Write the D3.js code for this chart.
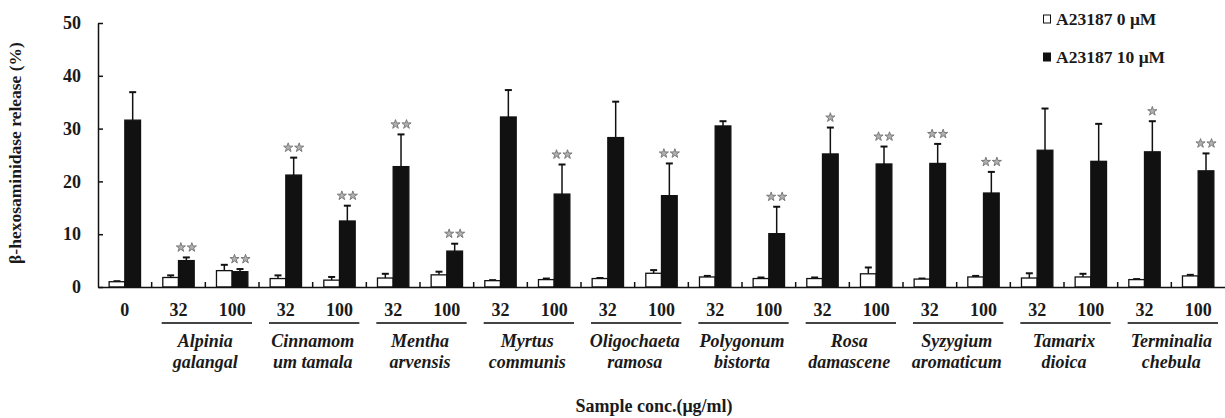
<!DOCTYPE html>
<html>
<head>
<meta charset="utf-8">
<script src="https://cdn.jsdelivr.net/npm/d3@7"></script>
<style>
  body { margin: 0; background: #fff; }
  svg text { font-family: "Liberation Serif", "Times New Roman", serif; font-weight: bold; fill: #1a1a1a; }
</style>
</head>
<body>
<svg id="chart" width="1225" height="418"></svg>
<script>
// concentration labels under each group
const concLabels = ["0", "32", "100", "32", "100", "32", "100", "32", "100", "32", "100",
  "32", "100", "32", "100", "32", "100", "32", "100", "32", "100"];
const species = [
  ["Alpinia", "galangal"], ["Cinnamom", "um tamala"], ["Mentha", "arvensis"],
  ["Myrtus", "communis"], ["Oligochaeta", "ramosa"], ["Polygonum", "bistorta"],
  ["Rosa", "damascene"], ["Syzygium", "aromaticum"], ["Tamarix", "dioica"],
  ["Terminalia", "chebula"]
];
// A23187 0 uM (white)
const meanA0 = [1.0, 1.8, 3.1, 1.6, 1.3, 1.7, 2.3, 1.2, 1.4, 1.6, 2.6, 1.9, 1.6, 1.6, 2.5, 1.5, 1.9, 1.7, 1.9, 1.4, 2.1];
const sdA0 = [0.1, 0.4, 1.1, 0.6, 0.6, 0.8, 0.6, 0.1, 0.2, 0.1, 0.6, 0.2, 0.2, 0.2, 1.2, 0.1, 0.2, 0.9, 0.6, 0.1, 0.2];
// A23187 10 uM (black)
const meanA10 = [31.6, 5.0, 2.9, 21.2, 12.5, 22.8, 6.8, 32.2, 17.6, 28.3, 17.3, 30.5, 10.1, 25.2, 23.3, 23.4, 17.8, 25.9, 23.8, 25.6, 22.0];
const sdA10 = [5.3, 0.6, 0.5, 3.3, 2.9, 6.1, 1.4, 5.1, 5.6, 6.8, 6.1, 0.9, 5.1, 5.0, 3.3, 3.7, 4.0, 7.9, 7.1, 5.8, 3.3];
const nStars = [0, 2, 2, 2, 2, 2, 2, 0, 2, 0, 2, 0, 2, 1, 2, 2, 2, 0, 0, 1, 2];
const yTicks = [0, 10, 20, 30, 40, 50];
const seriesNames = ["A23187 0 \u03bcM", "A23187 10 \u03bcM"];

const svg = d3.select("#chart");
const idx = d3.range(concLabels.length);

const x = d3.scaleBand().domain(idx).range([98, 1225]).padding(0);
const xs = d3.scaleBand().domain([0, 1]).range([0, x.bandwidth()]).paddingInner(0).paddingOuter(0.71);
const y = d3.scaleLinear().domain([0, 50]).range([287, 23]);

// y axis
const yAxis = svg.append("g")
  .attr("transform", "translate(98,0)")
  .call(d3.axisLeft(y).tickValues(yTicks).tickSizeInner(-5).tickSizeOuter(0).tickPadding(17));
yAxis.attr("font-family", null);
yAxis.select(".domain").attr("stroke", "#111").attr("stroke-width", 1.5);
yAxis.selectAll(".tick line").attr("stroke", "#111").attr("stroke-width", 1.5);
yAxis.selectAll("text").attr("font-size", 18);

svg.append("text")
  .attr("transform", "translate(21,153) rotate(-90)")
  .attr("text-anchor", "middle")
  .attr("font-size", 17.5)
  .text("\u03b2-hexosaminidase release (%)");

// bars
const groups = svg.append("g").selectAll("g")
  .data(idx)
  .join("g")
  .attr("transform", d => "translate(" + x(d) + ",0)");

const bars = [
  { mean: meanA0, sd: sdA0, fill: "#fff" },
  { mean: meanA10, sd: sdA10, fill: "#111" }
];

bars.forEach((s, k) => {
  const cx = xs(k) + xs.bandwidth() / 2;
  // error bar (upper only)
  groups.append("line")
    .attr("x1", cx).attr("x2", cx)
    .attr("y1", d => y(s.mean[d])).attr("y2", d => y(s.mean[d] + s.sd[d]))
    .attr("stroke", "#111").attr("stroke-width", 1.5);
  groups.append("line")
    .attr("x1", cx - 3.5).attr("x2", cx + 3.5)
    .attr("y1", d => y(s.mean[d] + s.sd[d])).attr("y2", d => y(s.mean[d] + s.sd[d]))
    .attr("stroke", "#111").attr("stroke-width", 2);
  groups.append("rect")
    .attr("x", xs(k))
    .attr("width", xs.bandwidth())
    .attr("y", d => y(s.mean[d]))
    .attr("height", d => y(0) - y(s.mean[d]))
    .attr("fill", s.fill)
    .attr("stroke", "#111").attr("stroke-width", 1.3);
});

// significance stars
const star = d3.symbol(d3.symbolStar, 26);
groups.each(function (d) {
  const cx = xs(1) + xs.bandwidth() / 2;
  const cy = y(meanA10[d] + sdA10[d]) - 10;
  const n = nStars[d];
  d3.select(this).selectAll("path.star")
    .data(d3.range(n))
    .join("path")
    .attr("class", "star")
    .attr("d", star)
    .attr("transform", j => "translate(" + (cx + (j - (n - 1) / 2) * 11) + "," + cy + ")")
    .attr("fill", "#b0b0b0")
    .attr("stroke", "#7a7a7a")
    .attr("stroke-width", 1);
});

// x axis
const xAxis = svg.append("g")
  .attr("transform", "translate(0,287)")
  .call(d3.axisBottom(x).tickSize(0).tickSizeOuter(0).tickPadding(16).tickFormat(d => concLabels[d]));
xAxis.attr("font-family", null);
xAxis.select(".domain").attr("stroke", "#111").attr("stroke-width", 1.5);
xAxis.selectAll("text").attr("font-size", 18);

// group boundary ticks
svg.append("g").selectAll("line")
  .data(idx.slice(1))
  .join("line")
  .attr("x1", d => x(d)).attr("x2", d => x(d))
  .attr("y1", 287).attr("y2", 282)
  .attr("stroke", "#111").attr("stroke-width", 1.5);

// species underline + names
const sp = svg.append("g").selectAll("g")
  .data(species)
  .join("g");
sp.append("line")
  .attr("x1", (d, i) => x(2 * i + 1) + 10)
  .attr("x2", (d, i) => x(2 * i + 2) + x.bandwidth() - 7)
  .attr("y1", 323).attr("y2", 323)
  .attr("stroke", "#444").attr("stroke-width", 2);
sp.append("text")
  .attr("x", (d, i) => x(2 * i + 2))
  .attr("y", 347)
  .attr("text-anchor", "middle")
  .attr("font-size", 18)
  .attr("font-style", "italic")
  .text(d => d[0]);
sp.append("text")
  .attr("x", (d, i) => x(2 * i + 2))
  .attr("y", 368)
  .attr("text-anchor", "middle")
  .attr("font-size", 18)
  .attr("font-style", "italic")
  .text(d => d[1]);

svg.append("text")
  .attr("x", 654).attr("y", 412)
  .attr("text-anchor", "middle")
  .attr("font-size", 18)
  .text("Sample conc.(\u03bcg/ml)");

// legend
const legend = svg.append("g").selectAll("g")
  .data(seriesNames)
  .join("g")
  .attr("transform", (d, i) => "translate(1043," + (25 + i * 38) + ")");
legend.append("rect")
  .attr("x", 0.5).attr("y", -10).attr("width", 7).attr("height", 8)
  .attr("fill", (d, i) => bars[i].fill)
  .attr("stroke", "#111").attr("stroke-width", 1);
legend.append("text")
  .attr("x", 13).attr("y", 0)
  .attr("font-size", 17.5)
  .text(d => d);
</script>
</body>
</html>
